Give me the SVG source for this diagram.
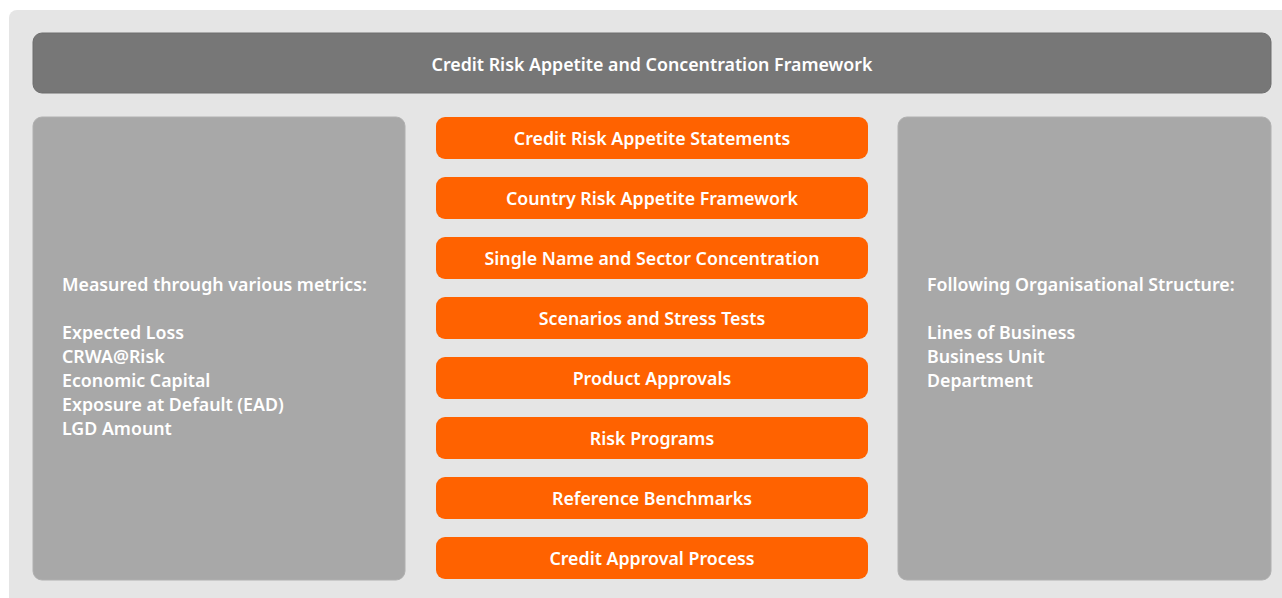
<svg xmlns="http://www.w3.org/2000/svg" width="1282" height="598" viewBox="0 0 1282 598">
<style>
.t{font-family:"Noto Sans","Open Sans","Liberation Sans",sans-serif;font-weight:600;font-size:17.8px;fill:#ffffff}
.c{text-anchor:middle}
.panel{fill:#a8a8a8;stroke:#b0b0b0;stroke-width:1}
.ob{fill:#ff6200}
</style>
<rect x="9" y="10" width="1290" height="600" rx="8" fill="#e5e5e5"/>
<g id="title">
<rect x="33" y="33" width="1238" height="60" rx="9" fill="#777777" stroke="#6e6e6e" stroke-width="1"/>
<text class="t c" x="652" y="71">Credit Risk Appetite and Concentration Framework</text>
</g>
<g id="left">
<rect class="panel" x="33" y="117" width="372" height="463" rx="9"/>
<text class="t" x="62" y="291">Measured through various metrics:</text>
<text class="t" x="62" y="339">Expected Loss</text>
<text class="t" x="62" y="363">CRWA@Risk</text>
<text class="t" x="62" y="387">Economic Capital</text>
<text class="t" x="62" y="411">Exposure at Default (EAD)</text>
<text class="t" x="62" y="435">LGD Amount</text>
</g>
<g id="right">
<rect class="panel" x="898" y="117" width="373" height="463" rx="9"/>
<text class="t" x="927" y="291">Following Organisational Structure:</text>
<text class="t" x="927" y="339">Lines of Business</text>
<text class="t" x="927" y="363">Business Unit</text>
<text class="t" x="927" y="387">Department</text>
</g>
<g id="n1"><rect class="ob" x="436" y="117" width="432" height="42" rx="9"/><text class="t c" x="652" y="145">Credit Risk Appetite Statements</text></g>
<g id="n2"><rect class="ob" x="436" y="177" width="432" height="42" rx="9"/><text class="t c" x="652" y="205">Country Risk Appetite Framework</text></g>
<g id="n3"><rect class="ob" x="436" y="237" width="432" height="42" rx="9"/><text class="t c" x="652" y="265">Single Name and Sector Concentration</text></g>
<g id="n4"><rect class="ob" x="436" y="297" width="432" height="42" rx="9"/><text class="t c" x="652" y="325">Scenarios and Stress Tests</text></g>
<g id="n5"><rect class="ob" x="436" y="357" width="432" height="42" rx="9"/><text class="t c" x="652" y="385">Product Approvals</text></g>
<g id="n6"><rect class="ob" x="436" y="417" width="432" height="42" rx="9"/><text class="t c" x="652" y="445">Risk Programs</text></g>
<g id="n7"><rect class="ob" x="436" y="477" width="432" height="42" rx="9"/><text class="t c" x="652" y="505">Reference Benchmarks</text></g>
<g id="n8"><rect class="ob" x="436" y="537" width="432" height="42" rx="9"/><text class="t c" x="652" y="565">Credit Approval Process</text></g>
<g id="connectors"></g>
</svg>
